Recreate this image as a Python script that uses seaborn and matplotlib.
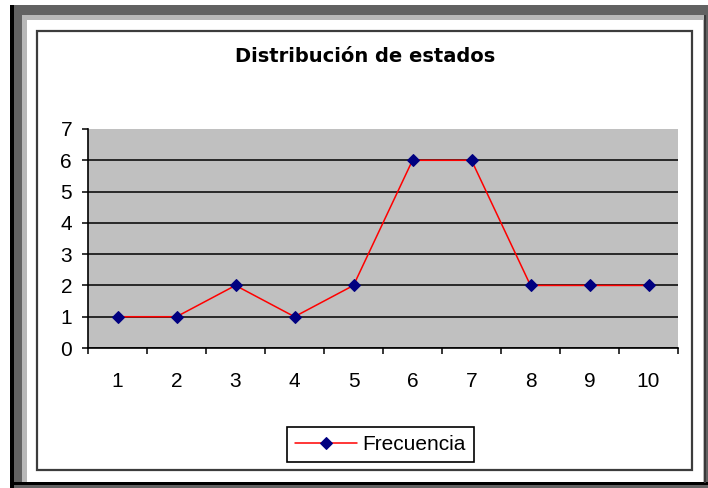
import numpy as np
import pandas as pd
import seaborn as sns
import matplotlib.pyplot as plt
from matplotlib.patches import Rectangle
from matplotlib.ticker import FixedLocator

# Data
estados = [1, 2, 3, 4, 5, 6, 7, 8, 9, 10]
frecuencia = [1, 1, 2, 1, 2, 6, 6, 2, 2, 2]
y_ticks = [0, 1, 2, 3, 4, 5, 6, 7]
titulo = "Distribución de estados"
serie = "Frecuencia"

df = pd.DataFrame({"estado": estados, "frecuencia": frecuencia})

sns.set_style("white")
plt.rcParams["font.family"] = ["Liberation Sans", "DejaVu Sans"]
plt.rcParams["text.color"] = "black"
plt.rcParams["xtick.color"] = "black"
plt.rcParams["ytick.color"] = "black"

W, H = 708, 488
fig = plt.figure(figsize=(W / 100, H / 100), dpi=100)
fig.patch.set_facecolor("white")


def box(x0, y0, x1, y1, **kw):
    # rectangle given in pixel coords (origin top-left)
    r = Rectangle((x0 / W, 1 - y1 / H), (x1 - x0) / W, (y1 - y0) / H,
                  transform=fig.transFigure, figure=fig, zorder=-5, **kw)
    fig.patches.append(r)


# window frame
box(10, 5, 708, 488, facecolor="#626262", edgecolor="none")
box(10, 5, 14, 488, facecolor="black", edgecolor="none")
box(22, 15, 704, 483, facecolor="#b8b8b8", edgecolor="none")
box(27, 20, 703, 482, facecolor="white", edgecolor="none")
box(14, 482, 708, 485, facecolor="black", edgecolor="none")
box(704, 15, 706, 483, facecolor="#3a3a3a", edgecolor="none")
# chart area border
box(37, 31, 692, 470, facecolor="white", edgecolor="#3c3c3c", linewidth=1.6)

ax = fig.add_axes([88 / W, 1 - 348 / H, 590 / W, 219 / H])
ax.set_zorder(2)
ax.set_facecolor("#c0c0c0")

sns.lineplot(data=df, x="estado", y="frecuencia", ax=ax, color="red",
             linewidth=1.1, marker="D", markersize=6.5,
             markerfacecolor="#000080", markeredgecolor="#000080",
             label=serie)

ax.set_xlim(0.5, 10.5)
ax.set_ylim(0, 7)
ax.set_xlabel("")
ax.set_ylabel("")

ax.set_xticks(estados)
ax.set_xticklabels([str(e) for e in estados])
ax.xaxis.set_minor_locator(FixedLocator(np.arange(0.5, 11, 1)))
ax.tick_params(axis="x", which="major", length=0, pad=17, labelsize=15, colors="black")
ax.tick_params(axis="x", which="minor", direction="out", length=4, width=1.1,
               color="black", bottom=True)
ax.set_yticks(y_ticks)
ax.tick_params(axis="y", which="major", direction="out", length=4.5, width=1.1,
               color="black", left=True, pad=7, labelsize=15)

ax.yaxis.grid(True, color="black", linewidth=1.1)
ax.set_axisbelow(True)
ax.yaxis.get_major_ticks()[-1].gridline.set_visible(False)

for s in ["top", "right"]:
    ax.spines[s].set_visible(False)
for s in ["left", "bottom"]:
    ax.spines[s].set_color("black")
    ax.spines[s].set_linewidth(1.2)

fig.text(365 / W, 1 - 57 / H, titulo, ha="center", va="center",
         fontsize=14, fontweight="bold", family=["DejaVu Sans"])

handles, labels = ax.get_legend_handles_labels()
leg = ax.legend(handles, labels, loc="center", bbox_to_anchor=(380.5 / W, 1 - 444.5 / H),
                bbox_transform=fig.transFigure, frameon=True, fancybox=False,
                edgecolor="black", framealpha=1, fontsize=15, handlelength=3.0,
                handletextpad=0.25, borderpad=0.4, borderaxespad=0)
leg.get_frame().set_linewidth(1.2)

fig.savefig("out.png", dpi=100)
